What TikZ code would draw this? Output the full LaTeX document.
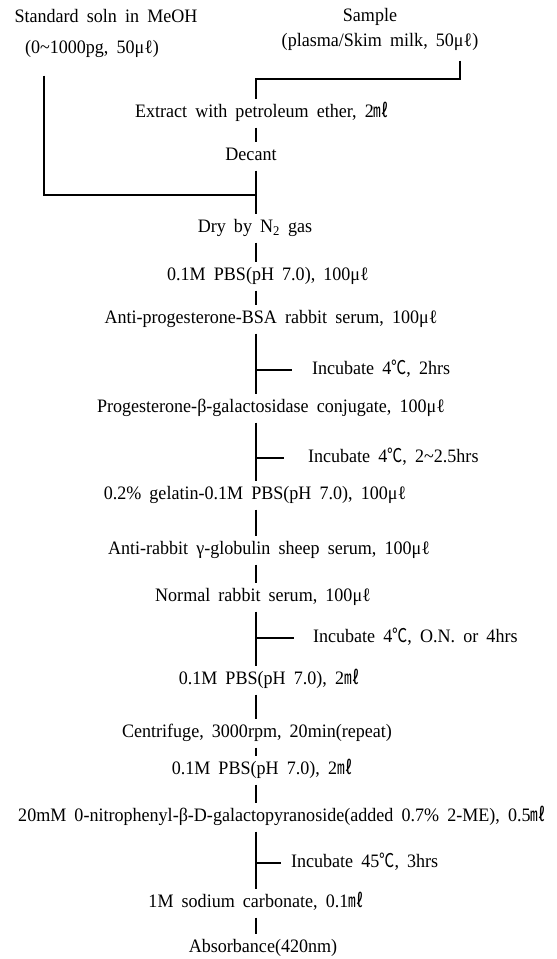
\documentclass[tikz,border=0pt]{standalone}
\usepackage{fontspec}
\setmainfont{Liberation Serif}[FakeStretch=0.95,WordSpace=1.8]
\newfontfamily\cjk{Noto Sans CJK SC}[FakeStretch=0.8]
\newcommand{\ml}{{\cjk ㎖}}
\newcommand{\mul}{μℓ}
\newcommand{\degc}{{\cjk ℃}}
\newcommand{\wave}{\textasciitilde}

\tikzset{
  steptext/.style={inner sep=0pt, outer sep=6pt, text height=13pt, text depth=4pt,
    font=\fontsize{19}{21}\selectfont},
  sidenote/.style={steptext, outer sep=0pt, anchor=west},
  flow/.style={line width=1.2pt},
}

\begin{document}
\begin{tikzpicture}[x=1pt,y=-1pt]
  \useasboundingbox (0,0) rectangle (557,959);
  \coordinate (spine) at (256,0);
  \coordinate (lj) at (44,195);
  \coordinate (sj) at (460,79);

  % sources
  \node[steptext] (std)    at (106,18)  {Standard soln in MeOH};
  \node[steptext] (stdamt) at (92,49)   {(0\wave1000pg, 50\mul)};
  \node[steptext] (smp)    at (370,17)  {Sample};
  \node[steptext] (smpsrc) at (380,42)  {(plasma/Skim milk, 50\mul)};

  % main steps
  \node[steptext] (ext)   at (262,113) {Extract with petroleum ether, 2\ml};
  \node[steptext] (dec)   at (251,156) {Decant};
  \node[steptext] (dry)   at (255,228) {Dry by N\textsubscript{2} gas};
  \node[steptext] (pbs1)  at (268,276) {0.1M PBS(pH 7.0), 100\mul};
  \node[steptext] (antip) at (271,319) {Anti-progesterone-BSA rabbit serum, 100\mul};
  \node[steptext] (conj)  at (271,408) {Progesterone-β-galactosidase conjugate, 100\mul};
  \node[steptext] (gel)   at (255,495) {0.2\% gelatin-0.1M PBS(pH 7.0), 100\mul};
  \node[steptext] (antir) at (269,550) {Anti-rabbit γ-globulin sheep serum, 100\mul};
  \node[steptext] (nrs)   at (263,597) {Normal rabbit serum, 100\mul};
  \node[steptext] (pbs2)  at (269,680) {0.1M PBS(pH 7.0), 2\ml};
  \node[steptext] (cent)  at (257,733) {Centrifuge, 3000rpm, 20min(repeat)};
  \node[steptext] (pbs3)  at (262,770) {0.1M PBS(pH 7.0), 2\ml};
  \node[steptext] (onpg)  at (282,817) {20mM 0-nitrophenyl-β-D-galactopyranoside(added 0.7\% 2-ME), 0.5\ml};
  \node[steptext] (carb)  at (256,903) {1M sodium carbonate, 0.1\ml};
  \node[steptext] (abs)   at (263,948) {Absorbance(420nm)};

  % incubations
  \node[sidenote] (inc1) at (312,370) {Incubate 4\degc, 2hrs};
  \node[sidenote] (inc2) at (308,458) {Incubate 4\degc, 2\wave2.5hrs};
  \node[sidenote] (inc3) at (313,638) {Incubate 4\degc, O.N. or 4hrs};
  \node[sidenote] (inc4) at (291,863) {Incubate 45\degc, 3hrs};

  % joining the two sources
  \draw[flow] ([yshift=-4pt]smpsrc.south -| sj) -- (sj) -| (ext.north -| spine);
  \draw[flow] ([yshift=-12pt]stdamt.south -| lj) -- (lj) -- (lj -| spine);

  % spine
  \foreach \a/\b in {ext/dec, dec/dry, dry/pbs1, pbs1/antip, antip/conj, conj/gel,
      gel/antir, antir/nrs, nrs/pbs2, pbs2/cent, cent/pbs3, pbs3/onpg, onpg/carb, carb/abs}
    \draw[flow] (\a.south -| spine) -- (\b.north -| spine);

  % side branches
  \draw[flow] (inc1.west -| spine) -- ++(36,0);
  \draw[flow] (inc2.west -| spine) -- ++(28,0);
  \draw[flow] (inc3.west -| spine) -- ++(38,0);
  \draw[flow] (inc4.west -| spine) -- ++(25,0);
\end{tikzpicture}
\end{document}
